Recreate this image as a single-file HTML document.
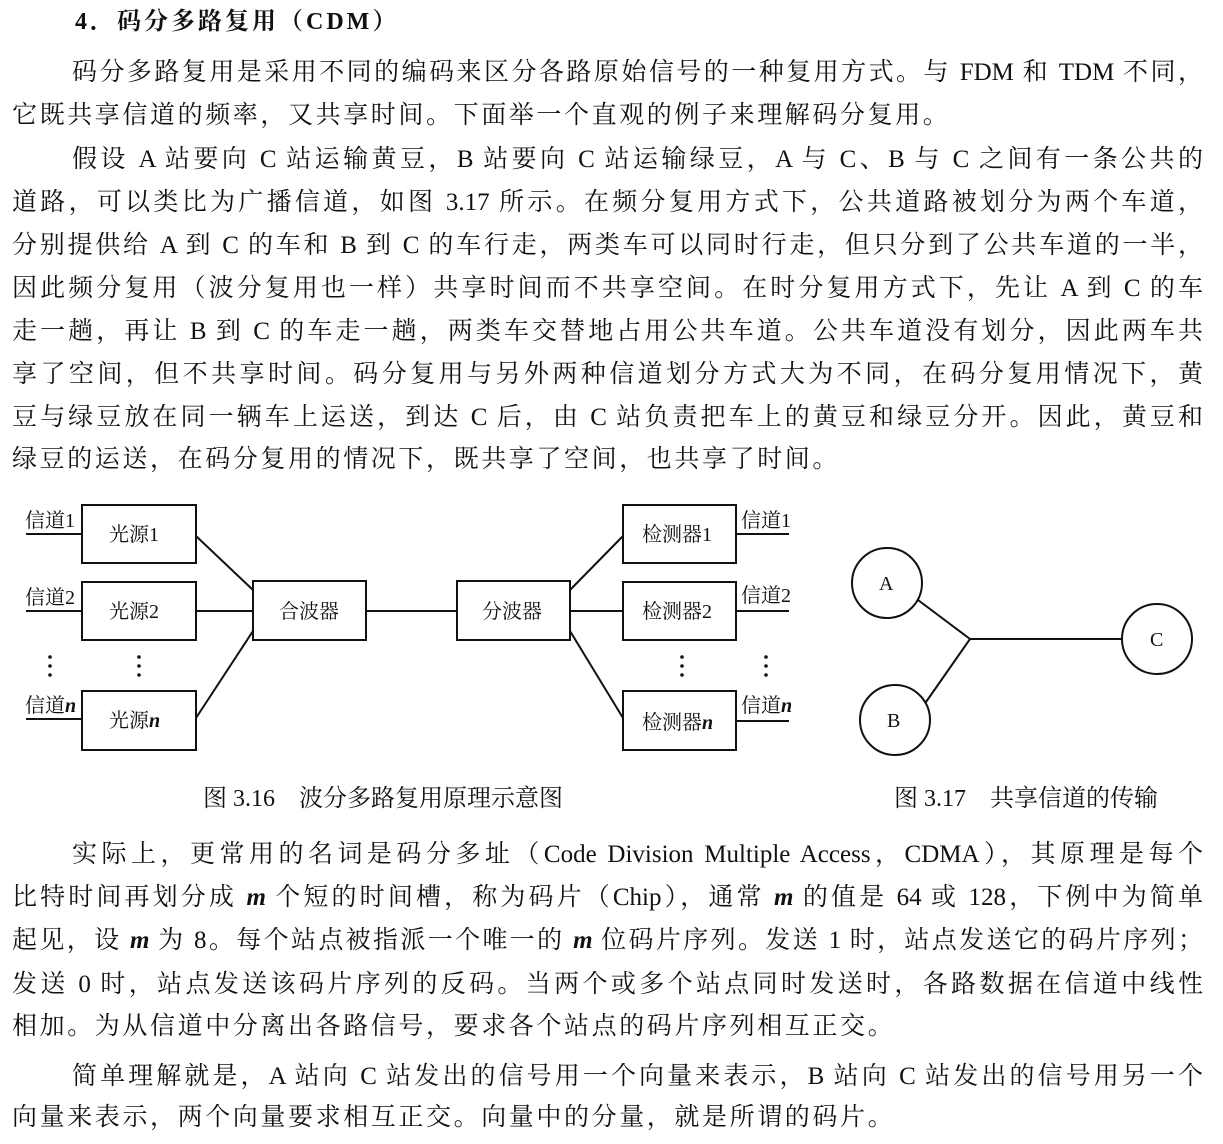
<!DOCTYPE html>
<html><head><meta charset="utf-8"><style>
body{margin:0;background:#fff;width:1223px;height:1144px;position:relative;overflow:hidden;color:#111;
font-family:"Liberation Serif","Noto Serif CJK SC",serif;}
.l{position:absolute;font-size:25px;line-height:30px;white-space:nowrap;}
.j{text-align:justify;text-align-last:justify;white-space:normal;}
.s{letter-spacing:2.6px}
i{font-style:italic;font-weight:bold}
svg{position:absolute;left:0;top:0}
svg text{font-family:"Liberation Serif","Noto Serif CJK SC",serif;fill:#111}
</style></head><body>
<div class="l" style="left:75px;top:7px;font-weight:bold;font-size:24px;letter-spacing:3px">4．码分多路复用（CDM）</div>
<div class="l j" style="left:72px;top:58px;width:1131px">码分多路复用是采用不同的编码来区分各路原始信号的一种复用方式。与 FDM 和 TDM 不同，</div>
<div class="l s" style="left:12px;top:101px">它既共享信道的频率，又共享时间。下面举一个直观的例子来理解码分复用。</div>
<div class="l j" style="left:72px;top:145px;width:1131px">假设 A 站要向 C 站运输黄豆，B 站要向 C 站运输绿豆，A 与 C、B 与 C 之间有一条公共的</div>
<div class="l j" style="left:12px;top:188px;width:1191px">道路，可以类比为广播信道，如图 3.17 所示。在频分复用方式下，公共道路被划分为两个车道，</div>
<div class="l j" style="left:12px;top:231px;width:1191px">分别提供给 A 到 C 的车和 B 到 C 的车行走，两类车可以同时行走，但只分到了公共车道的一半，</div>
<div class="l j" style="left:12px;top:274px;width:1191px">因此频分复用（波分复用也一样）共享时间而不共享空间。在时分复用方式下，先让 A 到 C 的车</div>
<div class="l j" style="left:12px;top:317px;width:1191px">走一趟，再让 B 到 C 的车走一趟，两类车交替地占用公共车道。公共车道没有划分，因此两车共</div>
<div class="l j" style="left:12px;top:360px;width:1191px">享了空间，但不共享时间。码分复用与另外两种信道划分方式大为不同，在码分复用情况下，黄</div>
<div class="l j" style="left:12px;top:403px;width:1191px">豆与绿豆放在同一辆车上运送，到达 C 后，由 C 站负责把车上的黄豆和绿豆分开。因此，黄豆和</div>
<div class="l s" style="left:12px;top:445px">绿豆的运送，在码分复用的情况下，既共享了空间，也共享了时间。</div>

<svg width="1223" height="1144" viewBox="0 0 1223 1144">
<g fill="none" stroke="#111" stroke-width="2">
<rect x="82" y="505" width="114" height="58"/>
<rect x="82" y="582" width="114" height="58"/>
<rect x="82" y="691" width="114" height="59"/>
<rect x="253" y="581" width="113" height="59"/>
<rect x="457" y="581" width="113" height="59"/>
<rect x="623" y="505" width="113" height="58"/>
<rect x="623" y="582" width="113" height="58"/>
<rect x="623" y="691" width="113" height="59"/>
<line x1="26" y1="534" x2="82" y2="534"/>
<line x1="26" y1="611" x2="82" y2="611"/>
<line x1="26" y1="719" x2="82" y2="719"/>
<line x1="196" y1="536" x2="253" y2="590"/>
<line x1="196" y1="611" x2="253" y2="611"/>
<line x1="196" y1="718" x2="253" y2="631"/>
<line x1="366" y1="611" x2="457" y2="611"/>
<line x1="570" y1="590" x2="623" y2="536"/>
<line x1="570" y1="611" x2="623" y2="611"/>
<line x1="570" y1="631" x2="623" y2="718"/>
<line x1="736" y1="534" x2="789" y2="534"/>
<line x1="736" y1="611" x2="789" y2="611"/>
<line x1="736" y1="721" x2="789" y2="721"/>
<circle cx="887" cy="583" r="35"/>
<circle cx="895" cy="720" r="35"/>
<circle cx="1157" cy="639" r="35"/>
<line x1="918" y1="600" x2="970" y2="639"/>
<line x1="926" y1="702" x2="970" y2="639"/>
<line x1="970" y1="639" x2="1122" y2="639"/>
</g>
<g fill="#111">
<circle cx="50" cy="657" r="1.8"/><circle cx="50" cy="666" r="1.8"/><circle cx="50" cy="675" r="1.8"/>
<circle cx="139" cy="657" r="1.8"/><circle cx="139" cy="666" r="1.8"/><circle cx="139" cy="675" r="1.8"/>
<circle cx="682" cy="657" r="1.8"/><circle cx="682" cy="666" r="1.8"/><circle cx="682" cy="675" r="1.8"/>
<circle cx="766" cy="657" r="1.8"/><circle cx="766" cy="666" r="1.8"/><circle cx="766" cy="675" r="1.8"/>
</g>
<g font-size="20">
<text x="25" y="527">信道1</text>
<text x="25" y="604">信道2</text>
<text x="25" y="712">信道<tspan font-style="italic" font-weight="bold">n</tspan></text>
<text x="109" y="541">光源1</text>
<text x="109" y="618">光源2</text>
<text x="109" y="727">光源<tspan font-style="italic" font-weight="bold">n</tspan></text>
<text x="279" y="618">合波器</text>
<text x="482" y="618">分波器</text>
<text x="642" y="541">检测器1</text>
<text x="642" y="618">检测器2</text>
<text x="642" y="729">检测器<tspan font-style="italic" font-weight="bold">n</tspan></text>
<text x="741" y="527">信道1</text>
<text x="741" y="602">信道2</text>
<text x="741" y="712">信道<tspan font-style="italic" font-weight="bold">n</tspan></text>
<text x="879" y="590">A</text>
<text x="887" y="727">B</text>
<text x="1150" y="646">C</text>
</g>
<g font-size="24">
<text x="203" y="806">图 3.16　波分多路复用原理示意图</text>
<text x="894" y="806">图 3.17　共享信道的传输</text>
</g>
</svg>

<div class="l j" style="left:72px;top:840px;width:1131px">实际上，更常用的名词是码分多址（Code Division Multiple Access，CDMA），其原理是每个</div>
<div class="l j" style="left:12px;top:883px;width:1191px">比特时间再划分成 <i>m</i> 个短的时间槽，称为码片（Chip），通常 <i>m</i> 的值是 64 或 128，下例中为简单</div>
<div class="l j" style="left:12px;top:926px;width:1191px">起见，设 <i>m</i> 为 8。每个站点被指派一个唯一的 <i>m</i> 位码片序列。发送 1 时，站点发送它的码片序列；</div>
<div class="l j" style="left:12px;top:970px;width:1191px">发送 0 时，站点发送该码片序列的反码。当两个或多个站点同时发送时，各路数据在信道中线性</div>
<div class="l s" style="left:12px;top:1012px">相加。为从信道中分离出各路信号，要求各个站点的码片序列相互正交。</div>
<div class="l j" style="left:72px;top:1062px;width:1131px">简单理解就是，A 站向 C 站发出的信号用一个向量来表示，B 站向 C 站发出的信号用另一个</div>
<div class="l s" style="left:12px;top:1103px">向量来表示，两个向量要求相互正交。向量中的分量，就是所谓的码片。</div>
</body></html>
